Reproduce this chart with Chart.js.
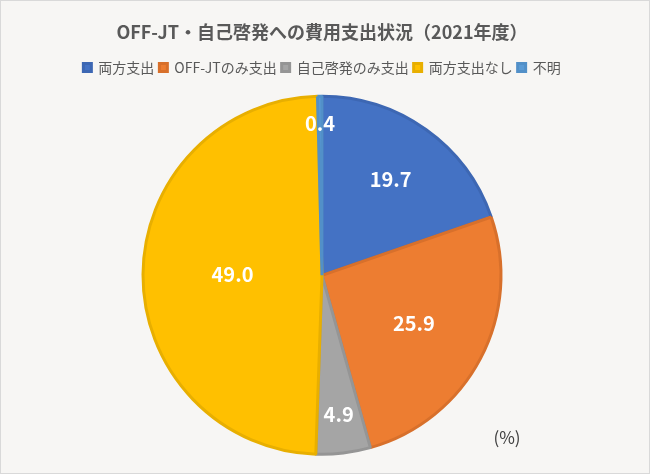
<!DOCTYPE html>
<html>
<head>
<meta charset="utf-8">
<script src="https://cdn.jsdelivr.net/npm/chart.js@4.4.0/dist/chart.umd.min.js"></script>
<style>
  body { margin: 0; background: #fff; }
  #wrap { width: 650px; height: 474px; box-sizing: border-box; border: 1px solid #D9D9D9; background: #F7F6F4; }
</style>
</head>
<body>
<div id="wrap"><canvas id="myChart" width="648" height="472"></canvas></div>
<script>
var labels = ["両方支出", "OFF-JTのみ支出", "自己啓発のみ支出", "両方支出なし", "不明"];
var values = [19.7, 25.9, 4.9, 49.0, 0.4];
var colors = ["#4472C4", "#ED7D31", "#A5A5A5", "#FFC000", "#5B9BD5"];
var borders = ["#3D67B3", "#D8702B", "#959595", "#E8AF00", "#5290C8"];
// how far out (fraction of radius) each value label sits
var labelPos = [0.66, 0.58, 0.78, 0.5, 0.85];

var font = "'Noto Sans CJK JP', 'Noto Sans', sans-serif";

var valueLabels = {
  id: "valueLabels",
  afterDatasetsDraw: function(chart) {
    var ctx = chart.ctx;
    var meta = chart.getDatasetMeta(0);
    ctx.save();
    ctx.font = "bold 20px " + font;
    ctx.fillStyle = "#fff";
    ctx.textAlign = "center";
    ctx.textBaseline = "middle";
    meta.data.forEach(function(arc, i) {
      var mid = (arc.startAngle + arc.endAngle) / 2;
      var r = arc.outerRadius * labelPos[i];
      ctx.fillText(values[i].toFixed(1), arc.x + Math.cos(mid) * r, arc.y + Math.sin(mid) * r);
    });
    ctx.font = "17px " + font;
    ctx.fillStyle = "#404040";
    ctx.fillText("(%)", 506, 437);
    ctx.restore();
  }
};

var ctx = document.getElementById("myChart").getContext("2d");
new Chart(ctx, {
  type: "pie",
  data: {
    labels: labels,
    datasets: [{
      data: values,
      backgroundColor: colors,
      borderColor: borders,
      borderWidth: 3,
      radius: 179
    }]
  },
  options: {
    responsive: false,
    animation: false,
    layout: { padding: { top: 0, bottom: 7, left: 0, right: 6 } },
    plugins: {
      title: {
        display: true,
        text: "OFF-JT・自己啓発への費用支出状況（2021年度）",
        color: "#595959",
        font: { family: font, size: 18, weight: "bold" },
        padding: { top: 20, bottom: 13 }
      },
      legend: {
        position: "top",
        labels: {
          color: "#595959",
          font: { family: font, size: 14 },
          boxWidth: 8,
          boxHeight: 8,
          padding: 5
        }
      },
      tooltip: { enabled: false }
    }
  },
  plugins: [valueLabels]
});
</script>
</body>
</html>
